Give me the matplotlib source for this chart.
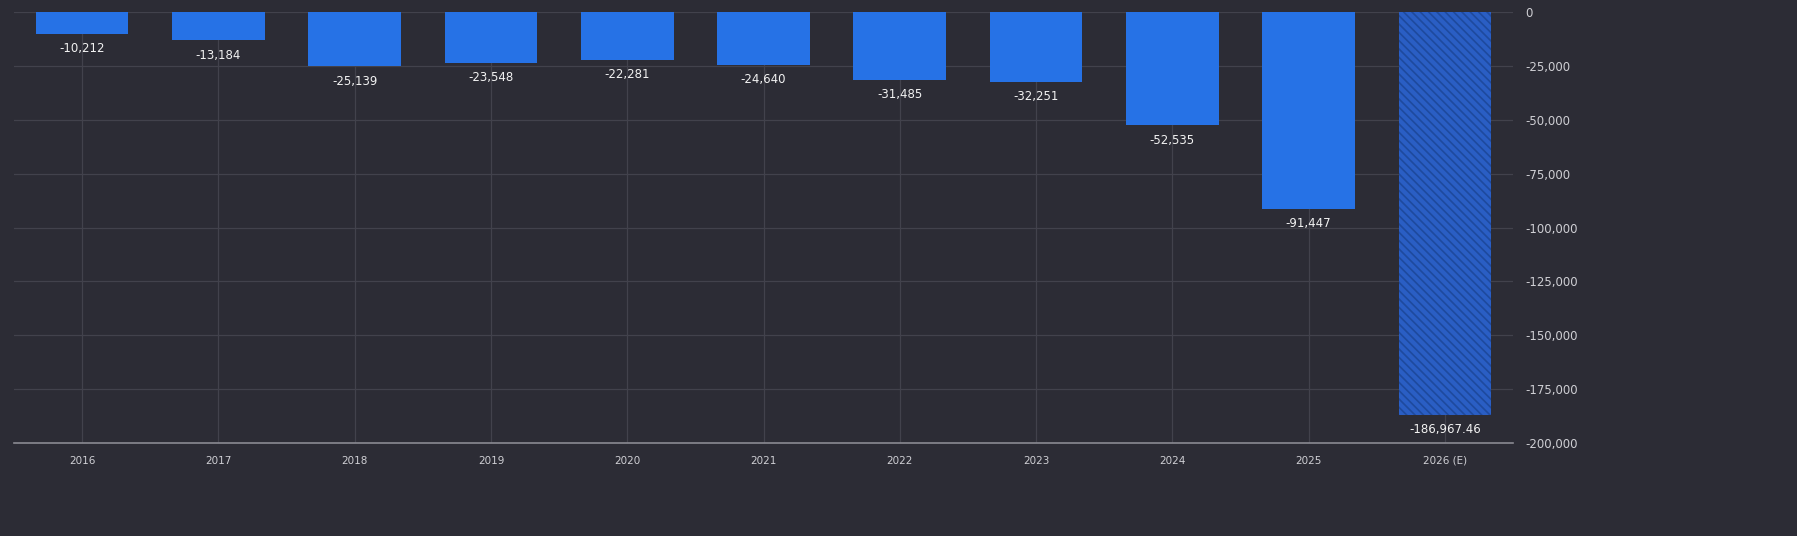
import matplotlib.pyplot as plt
import numpy as np

# Data
years = ['2016', '2017', '2018', '2019', '2020', '2021', '2022', '2023', '2024', '2025', '2026 (E)']
values = [-10212, -13184, -25139, -23548, -22281, -24640, -31485, -32251, -52535, -91447, -186967.46]
labels = ['-10,212', '-13,184', '-25,139', '-23,548', '-22,281', '-24,640', '-31,485', '-32,251',
          '-52,535', '-91,447', '-186,967.46']
yticks = [0, -25000, -50000, -75000, -100000, -125000, -150000, -175000, -200000]
ytick_labels = ['0', '-25,000', '-50,000', '-75,000', '-100,000', '-125,000', '-150,000', '-175,000', '-200,000']

bg = '#2c2c35'
blue = '#2672e6'

plt.rcParams['hatch.linewidth'] = 1.2

fig = plt.figure(figsize=(17.97, 5.36), dpi=100, facecolor=bg)
ax = fig.add_axes([0.0078, 0.1735, 0.8342, 0.8041])
ax.set_facecolor(bg)

x = np.arange(len(years))
bars = ax.bar(x[:-1], values[:-1], width=0.68, color=blue, zorder=3)
est = ax.bar(x[-1:], values[-1:], width=0.68, color='#2a5ec4', edgecolor='#1e4a9e',
             hatch='\\\\\\\\', linewidth=0, zorder=3)

for xi, v, lab in zip(x, values, labels):
    ax.annotate(lab, (xi, v), xytext=(0, -6), textcoords='offset points',
                ha='center', va='top', color='#f2f2f2', fontsize=8.5, zorder=4)

ax.set_xlim(-0.5, len(years) - 0.5)
ax.set_ylim(-200000, 0)
ax.set_xticks(x)
ax.set_xticklabels(years)
ax.set_yticks(yticks)
ax.set_yticklabels(ytick_labels)
ax.yaxis.tick_right()
ax.tick_params(axis='y', length=0, pad=9, colors='#cfcfd4', labelsize=8.5)
ax.tick_params(axis='x', length=0, pad=9, colors='#cfcfd4', labelsize=7.5)
for lab in ax.get_yticklabels():
    lab.set_horizontalalignment('left')

ax.grid(True, color='#42424c', linewidth=0.9, zorder=0)
for side in ['top', 'left', 'right']:
    ax.spines[side].set_visible(False)
ax.spines['bottom'].set_color('#8a8a92')
ax.spines['bottom'].set_linewidth(1.2)

plt.savefig('out.png', facecolor=bg)
